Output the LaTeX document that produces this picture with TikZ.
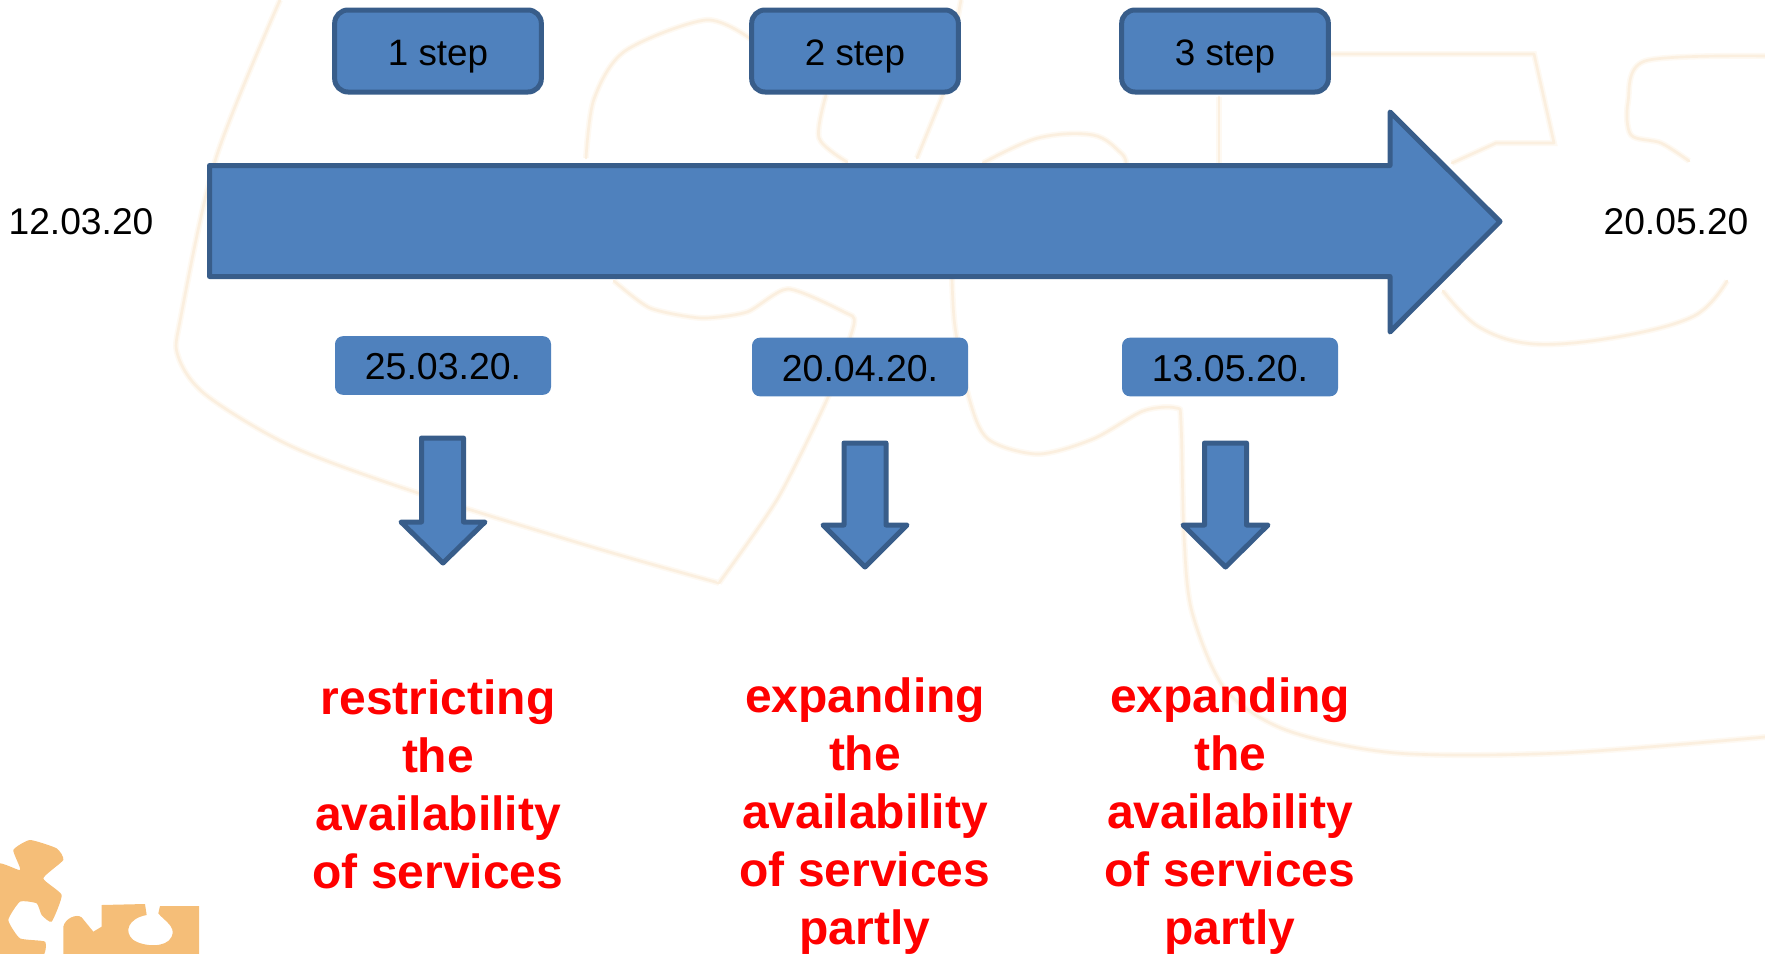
\documentclass[tikz,border=0pt]{standalone}
\usepackage{fontspec}
\setmainfont{Liberation Sans}
\definecolor{bfill}{HTML}{4F81BD}
\definecolor{bline}{HTML}{385D8A}
\definecolor{wmark}{HTML}{FBEFDF}
\definecolor{wmarksoft}{HTML}{FEF9F2}
\definecolor{logoc}{HTML}{F5BE78}
\tikzset{
  wm/.style={draw=wmark,line width=2pt,line cap=round,line join=round,preaction={draw=wmarksoft,line width=4.5pt}},
  blue arrow/.style={fill=bfill,draw=bline,line join=round,line width=3.75pt},
  stepbox/.style={rectangle,rounded corners=10pt,fill=bfill,draw=bline,line width=3.75pt,minimum width=155pt,minimum height=61.5pt,inner sep=0pt,text height=21pt,text depth=0pt,font=\fontsize{27.6}{32}\selectfont},
  datebox/.style={rectangle,rounded corners=6pt,fill=bfill,minimum width=162pt,minimum height=44pt,inner sep=0pt,text height=21.5pt,text depth=0pt,font=\fontsize{28.1}{32}\selectfont},
  endlabel/.style={inner sep=0pt,font=\fontsize{27.9}{32}\selectfont},
  result/.style={inner sep=0pt,align=center,text=red,font=\fontsize{36}{43.5}\selectfont\bfseries},
}
\begin{document}
\begin{tikzpicture}[x=0.75pt,y=-0.75pt]
\useasboundingbox (0,0) rectangle (1765,953);
\clip (0,0) rectangle (1765,953);
% watermark
\draw[wm] plot[smooth,tension=0.5] coordinates {(280,0) (216,158) (181,316) (178,356) (206,395) (293,447) (421,494) (599,549) (719,583)};
\draw[wm] plot[smooth,tension=0.4] coordinates {(719,583) (778,498) (829,395) (854,324) (844,312) (788,289) (747,312) (701,318) (650,308) (614,281)};
\draw[wm] plot[smooth,tension=0.5] coordinates {(586,158) (594,99) (625,51) (706,20) (752,40)};
\draw[wm] plot[smooth,tension=0.5] coordinates {(826,95) (819,138) (847,162)};
\draw[wm] (961,0) -- (944,92) -- (917,158);
\draw[wm] plot[smooth,tension=0.6] coordinates {(983,163) (1038,138) (1093,135) (1121,153) (1126,163)};
\draw[wm] (1219,97) -- (1219,163);
\draw[wm] (1330,54) -- (1534,54) -- (1554,143) -- (1496,143) -- (1452,163);
\draw[wm] plot[smooth,tension=0.6] coordinates {(1443,291) (1479,327) (1534,344) (1617,337) (1694,316) (1727,281)};
\draw[wm] plot[smooth,tension=0.5] coordinates {(1765,56) (1645,61) (1628,102) (1631,135) (1661,143) (1689,161)};
\draw[wm] plot[smooth,tension=0.5] coordinates {(952,278) (955,327) (969,398) (988,439) (1038,454) (1093,439) (1143,411) (1176,408) (1181,423) (1184,536) (1192,612) (1225,689) (1286,730) (1396,753) (1562,753) (1765,737)};
% logo
\begin{scope}[shift={(0,780)},x=0.25pt,y=-0.25pt]
\fill[logoc] plot[smooth cycle,tension=0.3] coordinates {(-20,255) (60,270) (40,210) (90,180) (170,205) (190,240) (130,295) (185,345) (155,425) (125,405) (110,370) (60,365) (25,420) (60,475) (135,485) (125,530) (-20,530)};
\fill[logoc] (190,530) -- (190,440) .. controls (195,415) and (230,400) .. (245,412) -- (280,455) -- (305,440) -- (305,375) -- (435,372) -- (440,405) .. controls (385,415) and (370,455) .. (400,480) .. controls (430,500) and (500,505) .. (515,470) .. controls (530,440) and (490,420) .. (475,400) -- (480,378) -- (597,378) -- (597,530) -- cycle;
\end{scope}
% main arrow
\path[blue arrow] (209.5,165.5) -- (1390,165.5) -- (1390,112) -- (1500,221.5) -- (1390,332) -- (1390,276.5) -- (209.5,276.5) -- cycle;
% step boxes
\node[stepbox] (s1) at (438,51) {1 step};
\node[stepbox] (s2) at (855,51) {2 step};
\node[stepbox] (s3) at (1225,51) {3 step};
% date boxes
\node[datebox] (d1) at (443,365.5) {25.03.20.};
\node[datebox] (d2) at (860,367) {20.04.20.};
\node[datebox] (d3) at (1230,367) {13.05.20.};
% end labels
\node[endlabel] (start) at (81,222) {12.03.20};
\node[endlabel] (end) at (1676,222) {20.05.20};
% down arrows
\path[blue arrow] (421.5,438) -- (463.5,438) -- (463.5,522) -- (485,522) -- (443,563) -- (401,522) -- (421.5,522) -- cycle;
\path[blue arrow] (844,443) -- (886,443) -- (886,525) -- (907,525) -- (865,567) -- (823,525) -- (844,525) -- cycle;
\path[blue arrow] (1204.5,443) -- (1246.5,443) -- (1246.5,525) -- (1268,525) -- (1225.5,567) -- (1183,525) -- (1204.5,525) -- cycle;
% results
\node[result] (r1) at (438,784) {restricting\\the\\availability\\of services};
\node[result] (r2) at (865,816.4) {expanding\\the\\availability\\of services\\partly};
\node[result] (r3) at (1230,816.4) {expanding\\the\\availability\\of services\\partly};
\end{tikzpicture}
\end{document}
